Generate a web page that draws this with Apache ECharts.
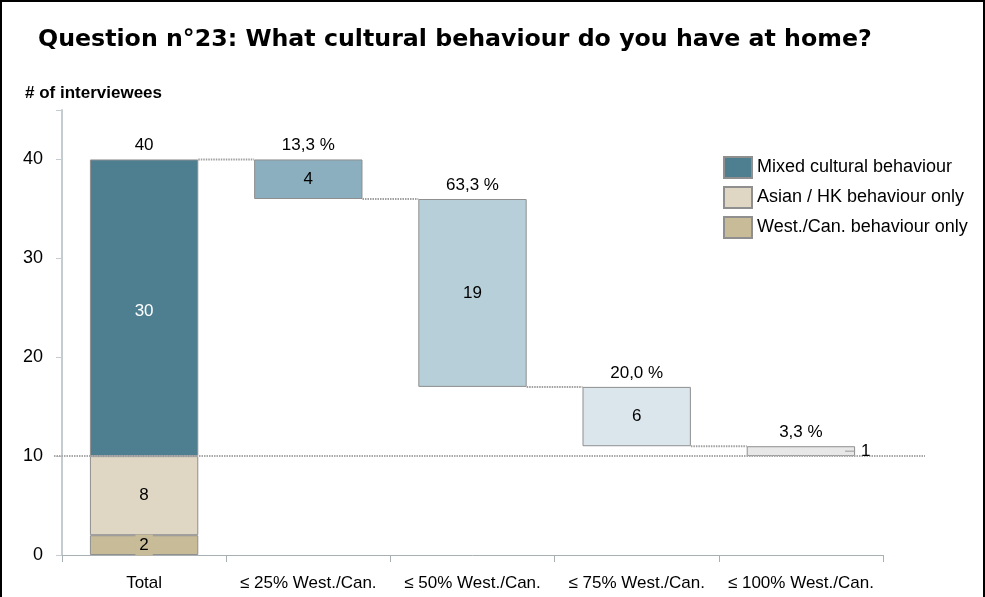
<!DOCTYPE html>
<html><head><meta charset="utf-8">
<script src="https://cdn.jsdelivr.net/npm/echarts@6/dist/echarts.min.js"></script>
<style>
html,body{margin:0;padding:0;background:#fff;}
#wrap{position:relative;width:985px;height:597px;}
#c{width:985px;height:597px;}
#frame{position:absolute;left:0;top:0;width:985px;height:597px;box-sizing:border-box;border:2px solid #000;border-bottom:none;pointer-events:none;}
</style></head>
<body><div id="wrap"><div id="c"></div><div id="frame"></div></div>
<script>
const categories = ['Total', '≤ 25% West./Can.', '≤ 50% West./Can.', '≤ 75% West./Can.', '≤ 100% West./Can.'];
const westCan = [2, '-', '-', '-', '-'];
const asianHK = [8, '-', '-', '-', '-'];
const mixed = [30, '-', '-', '-', '-'];
const floatBase = ['-', 36, 17, 11, 10];
const floatDelta = ['-', 4, 19, 6, 1];
const topLabels = ['40', '13,3 %', '63,3 %', '20,0 %', '3,3 %'];
const connectorLevels = [40, 36, 17, 11];
const refLevel = 10;
const yTicks = [0, 10, 20, 30, 40];

const deltaColors = ['#4D7F91', '#8BAFBF', '#B7CFD9', '#DAE5EC', '#E8E8E8'];
const BAR_FRAC = 0.66;
const font = '"Liberation Sans", Arial, sans-serif';
const LBL = 17;

const chart = echarts.init(document.getElementById('c'));
const border = {borderColor: '#8f8f8f', borderWidth: 1};

chart.setOption({
  animation: false,
  title: [
    {text: 'Question n°23: What cultural behaviour do you have at home?', left: 33, top: 23,
     textStyle: {fontFamily: '"DejaVu Sans", Verdana, sans-serif', fontWeight: 'bold', fontSize: 23.7, color: '#000'}},
    {text: '# of interviewees', left: 20, top: 80,
     textStyle: {fontFamily: font, fontWeight: 'bold', fontSize: 17, color: '#000'}}
  ],
  legend: {
    orient: 'vertical', left: 718, top: 151, itemWidth: 28, itemHeight: 21, itemGap: 7,
    icon: 'rect',
    data: ['Mixed cultural behaviour', 'Asian / HK behaviour only', 'West./Can. behaviour only'],
    textStyle: {fontFamily: font, fontSize: 18, color: '#000'}
  },
  grid: {left: 62, right: 102, top: 110, bottom: 42, containLabel: false},
  xAxis: {
    type: 'category', data: categories,
    axisLine: {lineStyle: {color: '#a8b0b4'}},
    axisTick: {show: true, length: 7, lineStyle: {color: '#a8b0b4'}},
    axisLabel: {fontFamily: font, fontSize: 17, color: '#000', margin: 20, interval: 0, hideOverlap: false}
  },
  yAxis: {
    type: 'value', min: 0, max: 45, interval: 10,
    axisLine: {show: true, lineStyle: {color: '#c4ccd0', width: 2}},
    axisTick: {show: true, length: 6, lineStyle: {color: '#c4ccd0'}},
    splitLine: {show: false},
    axisLabel: {fontFamily: font, fontSize: 18, color: '#000', margin: 19,
      formatter: v => yTicks.indexOf(v) >= 0 ? String(v) : ''}
  },
  series: [
    {name: 'West./Can. behaviour only', type: 'bar', stack: 'a', barWidth: (BAR_FRAC*100)+'%', data: westCan,
     itemStyle: Object.assign({color: '#C8BB98'}, border),
     label: {show: true, position: 'inside', fontFamily: font, fontSize: LBL, color: '#000',
       backgroundColor: '#C8BB98', padding: [3, 4, 1, 4]}},
    {name: 'Asian / HK behaviour only', type: 'bar', stack: 'a', data: asianHK,
     itemStyle: Object.assign({color: '#DFD7C4'}, border),
     label: {show: true, position: 'inside', fontFamily: font, fontSize: LBL, color: '#000'}},
    {name: 'Mixed cultural behaviour', type: 'bar', stack: 'a', data: mixed,
     itemStyle: Object.assign({color: '#4D7F91'}, border),
     label: {show: true, position: 'inside', offset: [0, 4], fontFamily: font, fontSize: LBL, color: '#fff'}},
    {name: 'base', type: 'bar', stack: 'a', data: floatBase,
     itemStyle: {color: 'transparent', borderColor: 'transparent'}, silent: true},
    {name: 'delta', type: 'bar', stack: 'a',
     data: floatDelta.map((v, i) => v === '-' ? '-' : {value: v, itemStyle: {color: deltaColors[i]}}),
     itemStyle: border,
     label: {show: true, position: 'inside', fontFamily: font, fontSize: LBL, color: '#000',
       formatter: p => p.dataIndex === 4 ? '' : String(p.value)}},
    {name: 'top', type: 'bar', stack: 'a', data: [0, 0, 0, 0, 0],
     itemStyle: {color: 'transparent', borderColor: 'transparent'},
     label: {show: true, position: 'top', distance: 5, fontFamily: font, fontSize: LBL, color: '#000',
       formatter: p => topLabels[p.dataIndex]}},
    {name: 'connectors', type: 'custom', z: 5,
     data: connectorLevels.map((lv, i) => [i, lv]),
     renderItem: (params, api) => {
       const i = api.value(0), lv = api.value(1);
       const band = api.size([1, 0])[0];
       const p1 = api.coord([i, lv]), p2 = api.coord([i + 1, lv]);
       return {type: 'line', shape: {x1: p1[0] + band*BAR_FRAC/2, y1: p1[1], x2: p2[0] - band*BAR_FRAC/2, y2: p2[1]},
         style: {stroke: '#a0a0a0', lineWidth: 2, lineDash: [1.5, 1]}};
     }},
    {name: 'refline', type: 'custom', z: 6,
     data: [[0, refLevel]],
     renderItem: (params, api) => {
       const band = api.size([1, 0])[0];
       const a = api.coord([0, api.value(1)]), b = api.coord([categories.length - 1, api.value(1)]);
       return {type: 'line', shape: {x1: a[0] - band/2 - 8, y1: a[1], x2: b[0] + band/2 + 42, y2: b[1]},
         style: {stroke: '#a8a8a8', lineWidth: 2, lineDash: [1.5, 1]}};
     }},
    {name: 'lastLabel', type: 'custom', z: 7,
     data: [[4, floatBase[4] + floatDelta[4] / 2, floatDelta[4]]],
     renderItem: (params, api) => {
       const band = api.size([1, 0])[0];
       const p = api.coord([api.value(0), api.value(1)]);
       const xr = p[0] + band*BAR_FRAC/2;
       return {type: 'group', children: [
         {type: 'line', shape: {x1: xr - 10, y1: p[1], x2: xr, y2: p[1]}, style: {stroke: '#999', lineWidth: 1}},
         {type: 'text', style: {x: xr + 6, y: p[1], text: String(api.value(2)), fill: '#000',
           font: LBL + 'px "Liberation Sans", Arial, sans-serif', verticalAlign: 'middle', align: 'left'}}
       ]};
     }}
  ]
});
</script></body></html>
